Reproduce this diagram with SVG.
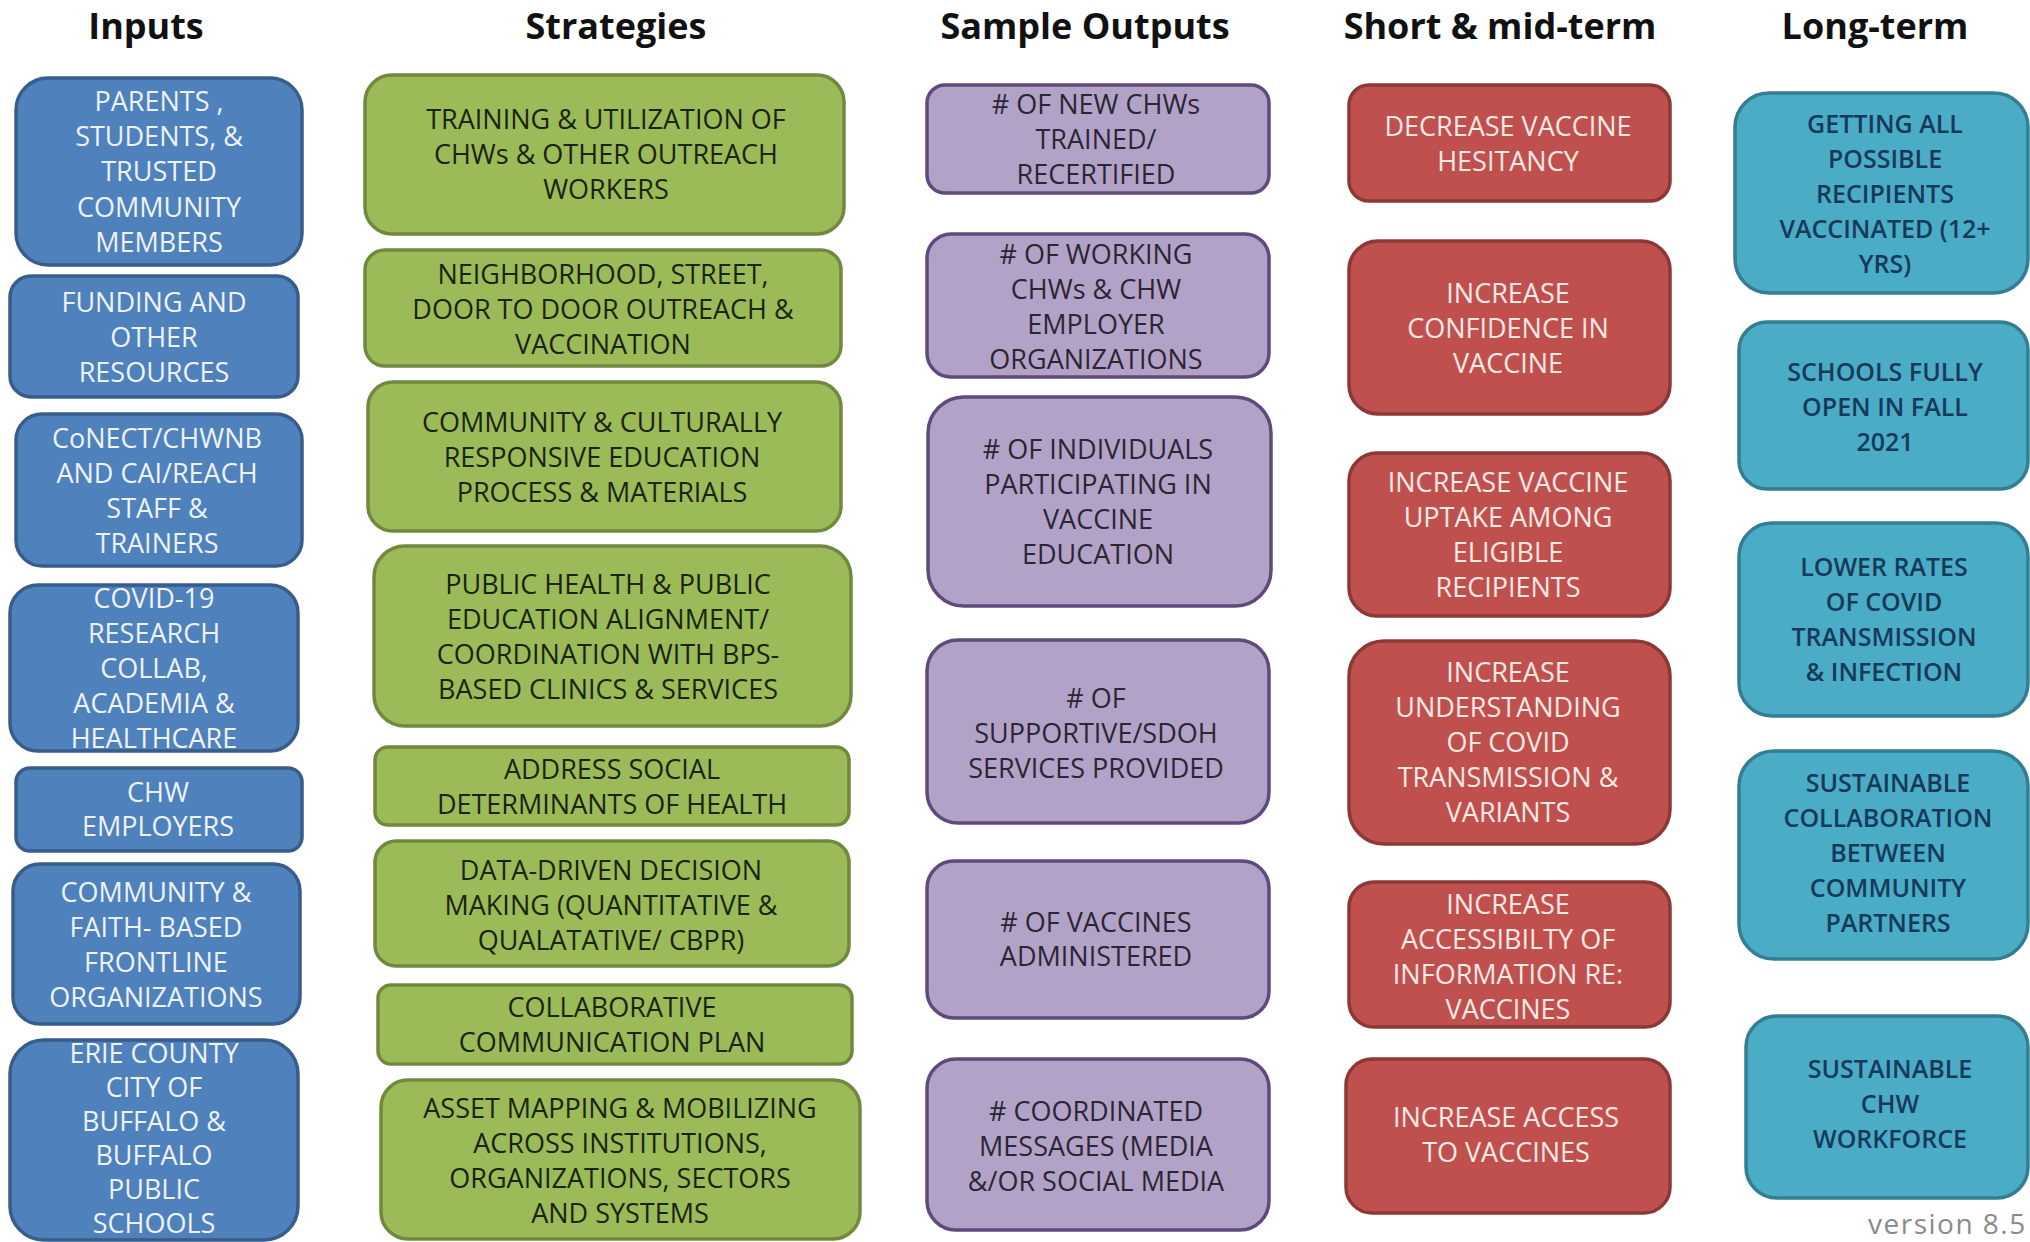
<svg xmlns="http://www.w3.org/2000/svg" width="2030" height="1242" viewBox="0 0 2030 1242">
<style>
.title{font-family:"Open Sans","Liberation Sans",sans-serif;font-weight:700;font-size:36px;fill:#111;text-anchor:middle}
.node rect{stroke-width:3.5}
.node text{font-family:"Open Sans","Liberation Sans",sans-serif;font-size:27px;font-weight:500;text-anchor:middle}
.in rect{fill:#4F81BD;stroke:#385D8A}
.in text{fill:#EEF3FA}
.st rect{fill:#9BBB59;stroke:#71893F}
.st text{fill:#1A2410}
.out rect{fill:#B3A2C7;stroke:#5F4A7B}
.out text{fill:#2B2633}
.sm rect{fill:#C0504D;stroke:#8C3836}
.sm text{fill:#FCEAE6}
.lt rect{fill:#4BACC6;stroke:#357D91}
.lt text{fill:#163A5A;font-weight:600;font-size:25px}
.ver{font-family:"Open Sans","Liberation Sans",sans-serif;font-size:28px;fill:#8A8A8A;letter-spacing:1.5px}
</style>
<rect width="2030" height="1242" fill="#FFFFFF"/>
<g id="titles">
<text class="title" x="146" y="39">Inputs</text>
<text class="title" x="616" y="39">Strategies</text>
<text class="title" x="1085" y="39">Sample Outputs</text>
<text class="title" x="1500" y="39">Short &amp; mid-term</text>
<text class="title" x="1875" y="39">Long-term</text>
</g>
<g id="connectors"></g>
<!-- Inputs -->
<g id="in1" class="node in"><rect x="16" y="78" width="286" height="187" rx="32"/><text><tspan x="159" y="111">PARENTS ,</tspan><tspan x="159" y="146">STUDENTS, &amp;</tspan><tspan x="159" y="181">TRUSTED</tspan><tspan x="159" y="217">COMMUNITY</tspan><tspan x="159" y="252">MEMBERS</tspan></text></g>
<g id="in2" class="node in"><rect x="10" y="276" width="288" height="121" rx="21"/><text><tspan x="154" y="312">FUNDING AND</tspan><tspan x="154" y="347">OTHER</tspan><tspan x="154" y="382">RESOURCES</tspan></text></g>
<g id="in3" class="node in"><rect x="16" y="414" width="286" height="152" rx="26"/><text><tspan x="157" y="448">CoNECT/CHWNB</tspan><tspan x="157" y="483">AND CAI/REACH</tspan><tspan x="157" y="518">STAFF &amp;</tspan><tspan x="157" y="553">TRAINERS</tspan></text></g>
<g id="in4" class="node in"><rect x="10" y="585" width="288" height="166" rx="28"/><text><tspan x="154" y="608">COVID-19</tspan><tspan x="154" y="643">RESEARCH</tspan><tspan x="154" y="678">COLLAB,</tspan><tspan x="154" y="713">ACADEMIA &amp;</tspan><tspan x="154" y="748">HEALTHCARE</tspan></text></g>
<g id="in5" class="node in"><rect x="16" y="768" width="286" height="83" rx="14"/><text><tspan x="158" y="802">CHW</tspan><tspan x="158" y="836">EMPLOYERS</tspan></text></g>
<g id="in6" class="node in"><rect x="13" y="864" width="287" height="160" rx="27"/><text><tspan x="156" y="902">COMMUNITY &amp;</tspan><tspan x="156" y="937">FAITH- BASED</tspan><tspan x="156" y="972">FRONTLINE</tspan><tspan x="156" y="1007">ORGANIZATIONS</tspan></text></g>
<g id="in7" class="node in"><rect x="10" y="1040" width="288" height="200" rx="34"/><text><tspan x="154" y="1063">ERIE COUNTY</tspan><tspan x="154" y="1097">CITY OF</tspan><tspan x="154" y="1131">BUFFALO &amp;</tspan><tspan x="154" y="1165">BUFFALO</tspan><tspan x="154" y="1199">PUBLIC</tspan><tspan x="154" y="1233">SCHOOLS</tspan></text></g>
<!-- Strategies -->
<g id="st1" class="node st"><rect x="365" y="75" width="479" height="159" rx="27"/><text><tspan x="606" y="129">TRAINING &amp; UTILIZATION OF</tspan><tspan x="606" y="164">CHWs &amp; OTHER OUTREACH</tspan><tspan x="606" y="199">WORKERS</tspan></text></g>
<g id="st2" class="node st"><rect x="365" y="250" width="476" height="116" rx="20"/><text><tspan x="603" y="284">NEIGHBORHOOD, STREET,</tspan><tspan x="603" y="319">DOOR TO DOOR OUTREACH &amp;</tspan><tspan x="603" y="354">VACCINATION</tspan></text></g>
<g id="st3" class="node st"><rect x="368" y="382" width="473" height="149" rx="25"/><text><tspan x="602" y="432">COMMUNITY &amp; CULTURALLY</tspan><tspan x="602" y="467">RESPONSIVE EDUCATION</tspan><tspan x="602" y="502">PROCESS &amp; MATERIALS</tspan></text></g>
<g id="st4" class="node st"><rect x="374" y="546" width="477" height="180" rx="31"/><text><tspan x="608" y="594">PUBLIC HEALTH &amp; PUBLIC</tspan><tspan x="608" y="629">EDUCATION ALIGNMENT/</tspan><tspan x="608" y="664">COORDINATION WITH BPS-</tspan><tspan x="608" y="699">BASED CLINICS &amp; SERVICES</tspan></text></g>
<g id="st5" class="node st"><rect x="375" y="747" width="474" height="78" rx="13"/><text><tspan x="612" y="779">ADDRESS SOCIAL</tspan><tspan x="612" y="814">DETERMINANTS OF HEALTH</tspan></text></g>
<g id="st6" class="node st"><rect x="375" y="841" width="474" height="125" rx="21"/><text><tspan x="611" y="880">DATA-DRIVEN DECISION</tspan><tspan x="611" y="915">MAKING (QUANTITATIVE &amp;</tspan><tspan x="611" y="950">QUALATATIVE/ CBPR)</tspan></text></g>
<g id="st7" class="node st"><rect x="378" y="985" width="474" height="79" rx="13"/><text><tspan x="612" y="1017">COLLABORATIVE</tspan><tspan x="612" y="1052">COMMUNICATION PLAN</tspan></text></g>
<g id="st8" class="node st"><rect x="381" y="1080" width="479" height="159" rx="27"/><text><tspan x="620" y="1118">ASSET MAPPING &amp; MOBILIZING</tspan><tspan x="620" y="1153">ACROSS INSTITUTIONS,</tspan><tspan x="620" y="1188">ORGANIZATIONS, SECTORS</tspan><tspan x="620" y="1223">AND SYSTEMS</tspan></text></g>
<!-- Sample Outputs -->
<g id="out1" class="node out"><rect x="927" y="85" width="342" height="108" rx="18"/><text><tspan x="1096" y="114"># OF NEW CHWs</tspan><tspan x="1096" y="149">TRAINED/</tspan><tspan x="1096" y="184">RECERTIFIED</tspan></text></g>
<g id="out2" class="node out"><rect x="927" y="234" width="342" height="143" rx="24"/><text><tspan x="1096" y="264"># OF WORKING</tspan><tspan x="1096" y="299">CHWs &amp; CHW</tspan><tspan x="1096" y="334">EMPLOYER</tspan><tspan x="1096" y="369">ORGANIZATIONS</tspan></text></g>
<g id="out3" class="node out"><rect x="928" y="397" width="343" height="209" rx="36"/><text><tspan x="1098" y="459"># OF INDIVIDUALS</tspan><tspan x="1098" y="494">PARTICIPATING IN</tspan><tspan x="1098" y="529">VACCINE</tspan><tspan x="1098" y="564">EDUCATION</tspan></text></g>
<g id="out4" class="node out"><rect x="927" y="640" width="342" height="183" rx="31"/><text><tspan x="1096" y="708"># OF</tspan><tspan x="1096" y="743">SUPPORTIVE/SDOH</tspan><tspan x="1096" y="778">SERVICES PROVIDED</tspan></text></g>
<g id="out5" class="node out"><rect x="927" y="861" width="342" height="157" rx="27"/><text><tspan x="1096" y="932"># OF VACCINES</tspan><tspan x="1096" y="966">ADMINISTERED</tspan></text></g>
<g id="out6" class="node out"><rect x="927" y="1059" width="342" height="171" rx="29"/><text><tspan x="1096" y="1121"># COORDINATED</tspan><tspan x="1096" y="1156">MESSAGES (MEDIA</tspan><tspan x="1096" y="1191">&amp;/OR SOCIAL MEDIA</tspan></text></g>
<!-- Short & mid-term -->
<g id="sm1" class="node sm"><rect x="1349" y="85" width="321" height="116" rx="20"/><text><tspan x="1508" y="136">DECREASE VACCINE</tspan><tspan x="1508" y="171">HESITANCY</tspan></text></g>
<g id="sm2" class="node sm"><rect x="1349" y="241" width="321" height="173" rx="29"/><text><tspan x="1508" y="303">INCREASE</tspan><tspan x="1508" y="338">CONFIDENCE IN</tspan><tspan x="1508" y="373">VACCINE</tspan></text></g>
<g id="sm3" class="node sm"><rect x="1349" y="453" width="321" height="163" rx="28"/><text><tspan x="1508" y="492">INCREASE VACCINE</tspan><tspan x="1508" y="527">UPTAKE AMONG</tspan><tspan x="1508" y="562">ELIGIBLE</tspan><tspan x="1508" y="597">RECIPIENTS</tspan></text></g>
<g id="sm4" class="node sm"><rect x="1349" y="641" width="321" height="203" rx="35"/><text><tspan x="1508" y="682">INCREASE</tspan><tspan x="1508" y="717">UNDERSTANDING</tspan><tspan x="1508" y="752">OF COVID</tspan><tspan x="1508" y="787">TRANSMISSION &amp;</tspan><tspan x="1508" y="822">VARIANTS</tspan></text></g>
<g id="sm5" class="node sm"><rect x="1349" y="882" width="321" height="145" rx="25"/><text><tspan x="1508" y="914">INCREASE</tspan><tspan x="1508" y="949">ACCESSIBILTY OF</tspan><tspan x="1508" y="984">INFORMATION RE:</tspan><tspan x="1508" y="1019">VACCINES</tspan></text></g>
<g id="sm6" class="node sm"><rect x="1346" y="1059" width="324" height="154" rx="26"/><text><tspan x="1506" y="1127">INCREASE ACCESS</tspan><tspan x="1506" y="1162">TO VACCINES</tspan></text></g>
<!-- Long-term -->
<g id="lt1" class="node lt"><rect x="1735" y="93" width="293" height="200" rx="34"/><text><tspan x="1885" y="133">GETTING ALL</tspan><tspan x="1885" y="168">POSSIBLE</tspan><tspan x="1885" y="203">RECIPIENTS</tspan><tspan x="1885" y="238">VACCINATED (12+</tspan><tspan x="1885" y="273">YRS)</tspan></text></g>
<g id="lt2" class="node lt"><rect x="1739" y="322" width="289" height="167" rx="28"/><text><tspan x="1885" y="381">SCHOOLS FULLY</tspan><tspan x="1885" y="416">OPEN IN FALL</tspan><tspan x="1885" y="451">2021</tspan></text></g>
<g id="lt3" class="node lt"><rect x="1739" y="523" width="289" height="193" rx="33"/><text><tspan x="1884" y="576">LOWER RATES</tspan><tspan x="1884" y="611">OF COVID</tspan><tspan x="1884" y="646">TRANSMISSION</tspan><tspan x="1884" y="681">&amp; INFECTION</tspan></text></g>
<g id="lt4" class="node lt"><rect x="1739" y="751" width="289" height="208" rx="35"/><text><tspan x="1888" y="792">SUSTAINABLE</tspan><tspan x="1888" y="827">COLLABORATION</tspan><tspan x="1888" y="862">BETWEEN</tspan><tspan x="1888" y="897">COMMUNITY</tspan><tspan x="1888" y="932">PARTNERS</tspan></text></g>
<g id="lt5" class="node lt"><rect x="1746" y="1016" width="282" height="182" rx="31"/><text><tspan x="1890" y="1078">SUSTAINABLE</tspan><tspan x="1890" y="1113">CHW</tspan><tspan x="1890" y="1148">WORKFORCE</tspan></text></g>
<text class="ver" x="1868" y="1234">version 8.5</text>
</svg>
